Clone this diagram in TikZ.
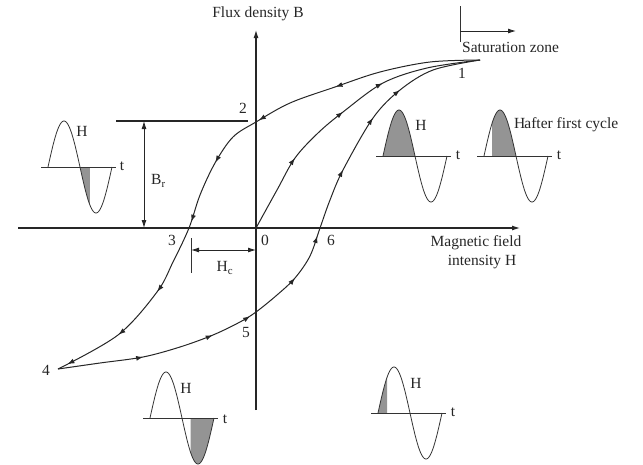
\documentclass[tikz,border=0pt]{standalone}
\usepackage{fontspec}
\setmainfont{Liberation Serif}
\usetikzlibrary{arrows.meta,decorations.markings}
\newcommand\hwave[4]{%
 \fill[black!42] plot[domain=#3:#4, samples=30, variable=\x] ({#1+0.177778*\x},{#2-46*sin(\x)}) -- ({#1+0.177778*#4},#2) -- ({#1+0.177778*#3},#2) -- cycle;
 \draw[wave] ({#1-7},#2) -- ({#1+68},#2);
 \draw[wave] plot[domain=0:360, samples=73, smooth, variable=\x] ({#1+0.177778*\x},{#2-46*sin(\x)});
}
\begin{document}
\begin{tikzpicture}[x=1pt,y=-1pt, line join=round,
  lbl/.style={font=\fontsize{15.5}{17}\selectfont, inner sep=0pt, text=black!85},
  axisline/.style={line width=1.1pt, draw=black!85},
  curve/.style={line width=1pt, draw=black!85},
  wave/.style={line width=0.8pt, draw=black!80},
  tipend/.style={-{Latex[length=8pt,width=5pt]}},
  tipboth/.style={{Latex[length=8pt,width=5pt]}-{Latex[length=8pt,width=5pt]}},
  mk/.style={postaction={decorate}},
]
\useasboundingbox (0,0) rectangle (643,464);
% key points
\coordinate (p0) at (256,228);
\coordinate (p1) at (480,60);
\coordinate (p2) at (256,122);
\coordinate (p3) at (189,228);
\coordinate (p4) at (58,369);
\coordinate (p5) at (256,312);
\coordinate (p6) at (320,228);
% axes
\coordinate (hL) at (18,228);
\coordinate (hR) at (520,228);
\coordinate (vB) at (256,410);
\coordinate (vT) at (256,30);
\draw[axisline, tipend] (hL) -- (hR);
\draw[axisline, tipend] (vB) -- (vT);
\node[lbl] (flux) at (258,14) {Flux density B};
\node[lbl] (mf1) at (476,243) {Magnetic field};
\node[lbl] (mf2) at (482,262) {intensity H};
% saturation zone
\coordinate (sT) at (460,6);
\coordinate (sB) at (460,42);
\coordinate (sA) at (460,31);
\coordinate (sE) at (516,31);
\draw[line width=0.8pt, black!80] (sT) -- (sB);
\draw[line width=0.9pt, black!85, tipend] (sA) -- (sE);
\node[lbl, anchor=west] (sat) at (462,47) {Saturation zone};
% Br
\coordinate (brL) at (116,121);
\coordinate (brR) at (248,121);
\coordinate (brT) at (144,121);
\coordinate (brB) at (144,228);
\draw[axisline] (brL) -- (brR);
\draw[line width=0.9pt, black!85, tipboth] (brT) -- (brB);
\node[lbl, anchor=west] (br) at (151,181) {B\textsubscript{r}};
% Hc
\coordinate (hcT) at (191,238);
\coordinate (hcB) at (191,273);
\coordinate (hcL) at (191,250);
\coordinate (hcR) at (256,250);
\draw[line width=0.8pt, black!80] (hcT) -- (hcB);
\draw[line width=0.9pt, black!85, tipboth] (hcL) -- (hcR);
\node[lbl] (hc) at (225,268) {H\textsubscript{c}};
% point labels
\node[lbl] (l1) at (462,73) {1};
\node[lbl] (l2) at (243,108) {2};
\node[lbl] (l3) at (172,240) {3};
\node[lbl] (l0) at (265,240) {0};
\node[lbl] (l6) at (331,240) {6};
\node[lbl] (l5) at (246,332) {5};
\node[lbl] (l4) at (46,370) {4};
% upper branch 1 -> 2 -> 3 -> 4
\draw[curve, mk, decoration={markings,
  mark=at position 148pt with {\arrow{Latex[length=7pt,width=5pt]}},
  mark=at position 232pt with {\arrow{Latex[length=7pt,width=5pt]}},
  mark=at position 294pt with {\arrow{Latex[length=7pt,width=5pt]}},
  mark=at position 358pt with {\arrow{Latex[length=7pt,width=5pt]}},
  mark=at position 436pt with {\arrow{Latex[length=7pt,width=5pt]}},
  mark=at position 494pt with {\arrow{Latex[length=7pt,width=5pt]}},
  mark=at position 553pt with {\arrow{Latex[length=7pt,width=5pt]}}}]
  plot[smooth, tension=0.55] coordinates {(p1) (430,62) (380,72) (335,87) (290,103) (p2) (233,137) (215,163) (200,195) (p3) (173,262) (157,292) (118,335) (p4)};
% lower branch 4 -> 5 -> 6 -> 1
\draw[curve, mk, decoration={markings,
  mark=at position 86pt with {\arrow{Latex[length=7pt,width=5pt]}},
  mark=at position 159pt with {\arrow{Latex[length=7pt,width=5pt]}},
  mark=at position 201pt with {\arrow{Latex[length=7pt,width=5pt]}},
  mark=at position 260pt with {\arrow{Latex[length=7pt,width=5pt]}},
  mark=at position 308pt with {\arrow{Latex[length=7pt,width=5pt]}},
  mark=at position 379pt with {\arrow{Latex[length=7pt,width=5pt]}},
  mark=at position 439pt with {\arrow{Latex[length=7pt,width=5pt]}},
  mark=at position 478pt with {\arrow{Latex[length=7pt,width=5pt]}}}]
  plot[smooth, tension=0.55] coordinates {(p4) (100,363) (143,357) (180,347) (213,335) (240,322) (p5) (277,295) (295,278) (310,256) (p6) (330,200) (343,170) (373,118) (400,90) (433,70) (p1)};
% initial magnetisation 0 -> 1
\draw[curve, mk, decoration={markings,
  mark=at position 80pt with {\arrow{Latex[length=7pt,width=5pt]}},
  mark=at position 147pt with {\arrow{Latex[length=7pt,width=5pt]}},
  mark=at position 196pt with {\arrow{Latex[length=7pt,width=5pt]}}}]
  plot[smooth, tension=0.55] coordinates {(p0) (277,190) (295,158) (318,133) (343,112) (383,83) (427,68) (p1)};
% sine insets
\hwave{48}{167}{180}{236}
\node[lbl] (hA) at (82,131) {H};
\node[lbl] (tA) at (122,166) {t};
\hwave{383}{156}{0}{180}
\node[lbl] (hB) at (421,125) {H};
\node[lbl] (tB) at (458,155) {t};
\hwave{484}{156}{45}{180}
\node[lbl, anchor=west] (hC) at (514,125) {H\kern-1pt after first cycle};
\node[lbl] (tC) at (559,155) {t};
\hwave{150}{418}{229}{360}
\node[lbl] (hD) at (186,388) {H};
\node[lbl] (tD) at (225,419) {t};
\hwave{378}{413}{0}{51}
\node[lbl] (hE) at (416,383) {H};
\node[lbl] (tE) at (453,412) {t};
\end{tikzpicture}
\end{document}
